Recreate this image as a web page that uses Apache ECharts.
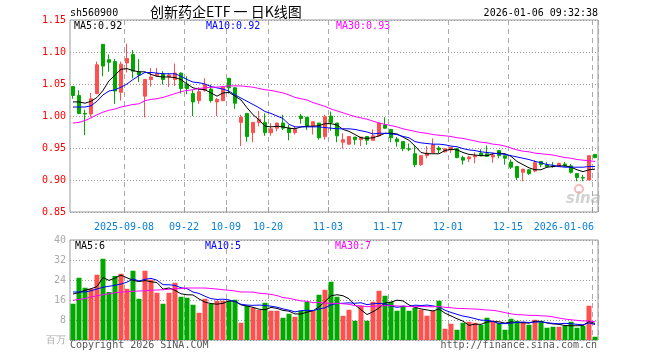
<!DOCTYPE html>
<html><head><meta charset="utf-8">
<script src="https://cdn.jsdelivr.net/npm/echarts@6/dist/echarts.min.js"></script>
<style>html,body{margin:0;padding:0;background:#fff}#c{width:660px;height:360px}</style>
</head><body><div id="c"></div>
<script>
const dates = [
'2025-08-26','2025-08-27','2025-08-28','2025-08-29',
'2025-09-01','2025-09-02','2025-09-03','2025-09-04','2025-09-05',
'2025-09-08','2025-09-09','2025-09-10','2025-09-11','2025-09-12',
'2025-09-15','2025-09-16','2025-09-17','2025-09-18','2025-09-19',
'2025-09-22','2025-09-23','2025-09-24','2025-09-25','2025-09-26',
'2025-09-29','2025-09-30','2025-10-09','2025-10-10',
'2025-10-13','2025-10-14','2025-10-15','2025-10-16','2025-10-17',
'2025-10-20','2025-10-21','2025-10-22','2025-10-23','2025-10-24',
'2025-10-27','2025-10-28','2025-10-29','2025-10-30','2025-10-31',
'2025-11-03','2025-11-04','2025-11-05','2025-11-06','2025-11-07',
'2025-11-10','2025-11-11','2025-11-12','2025-11-13','2025-11-14',
'2025-11-17','2025-11-18','2025-11-19','2025-11-20','2025-11-21',
'2025-11-24','2025-11-25','2025-11-26','2025-11-27','2025-11-28',
'2025-12-01','2025-12-02','2025-12-03','2025-12-04','2025-12-05',
'2025-12-08','2025-12-09','2025-12-10','2025-12-11','2025-12-12',
'2025-12-15','2025-12-16','2025-12-17','2025-12-18','2025-12-19',
'2025-12-22','2025-12-23','2025-12-24','2025-12-25','2025-12-26',
'2025-12-29','2025-12-30','2025-12-31','2026-01-05','2026-01-06'];

const tickDates  = ['2025-09-08','2025-09-22','2025-10-09','2025-10-20','2025-11-03','2025-11-17','2025-12-01','2025-12-15','2026-01-06'];
const tickLabels = ['2025-09-08','09-22','10-09','10-20','11-03','11-17','12-01','12-15','2026-01-06'];

const openP = [1.046,1.032,1.004,1.003,1.035,1.112,1.088,1.085,1.037,1.083,
1.096,1.069,1.031,1.057,1.063,1.066,1.061,1.057,1.067,1.050,
1.035,1.024,1.040,1.042,1.022,1.024,1.059,1.044,0.990,1.004,
0.974,0.990,0.990,0.974,0.981,0.989,0.981,0.974,1.000,0.998,
0.984,0.989,0.968,1.000,0.989,0.959,0.956,0.967,0.963,0.968,
0.962,0.969,0.986,0.979,0.964,0.960,0.949,0.941,0.924,0.938,
0.943,0.950,0.944,0.947,0.949,0.935,0.933,0.936,0.942,0.941,
0.936,0.946,0.938,0.928,0.921,0.912,0.916,0.914,0.929,0.924,
0.922,0.921,0.925,0.922,0.910,0.904,0.900,0.940];
const closeP = [1.032,1.004,1.003,1.027,1.080,1.078,1.084,1.039,1.081,1.090,
1.070,1.064,1.057,1.061,1.066,1.057,1.064,1.067,1.043,1.043,
1.022,1.038,1.049,1.024,1.026,1.045,1.044,1.020,0.998,0.968,
0.990,0.995,0.974,0.980,0.989,0.981,0.974,0.979,0.996,0.984,
0.991,0.966,0.999,0.990,0.969,0.963,0.968,0.963,0.967,0.962,
0.969,0.989,0.981,0.966,0.960,0.949,0.948,0.924,0.938,0.942,
0.955,0.947,0.949,0.951,0.935,0.931,0.936,0.938,0.938,0.937,
0.939,0.938,0.934,0.920,0.904,0.917,0.910,0.927,0.924,0.921,
0.921,0.926,0.922,0.912,0.904,0.903,0.938,0.935];
const lowP = [1.027,1.003,0.970,0.998,1.034,1.062,1.069,1.019,1.024,1.068,
1.059,1.053,0.998,1.046,1.062,1.049,1.045,1.047,1.035,1.034,
1.000,1.019,1.038,1.021,1.000,1.023,1.035,1.011,0.953,0.960,
0.959,0.984,0.969,0.969,0.976,0.978,0.962,0.971,0.988,0.978,
0.971,0.963,0.963,0.977,0.959,0.949,0.955,0.955,0.953,0.955,
0.962,0.968,0.980,0.959,0.952,0.945,0.945,0.920,0.922,0.934,
0.943,0.942,0.943,0.942,0.934,0.924,0.928,0.926,0.937,0.937,
0.927,0.934,0.924,0.917,0.900,0.898,0.908,0.912,0.920,0.919,
0.919,0.920,0.920,0.910,0.898,0.898,0.900,0.934];
const highP = [1.046,1.040,1.010,1.036,1.085,1.112,1.096,1.089,1.085,1.113,
1.103,1.089,1.057,1.075,1.075,1.070,1.067,1.082,1.068,1.062,
1.041,1.045,1.059,1.049,1.028,1.046,1.059,1.045,1.002,1.004,
0.990,1.008,1.004,0.989,0.990,1.002,0.986,0.984,1.003,0.998,
0.991,0.989,1.002,1.007,0.989,0.973,0.968,0.967,0.967,0.968,
0.979,0.989,0.998,0.979,0.967,0.960,0.957,0.953,0.938,0.953,
0.965,0.953,0.950,0.951,0.950,0.938,0.938,0.943,0.948,0.954,
0.943,0.946,0.938,0.932,0.922,0.917,0.917,0.931,0.929,0.928,
0.928,0.927,0.928,0.925,0.910,0.908,0.938,0.940];

const ma5 = [1.022,1.022,1.020,1.023,1.029,1.040,1.055,1.064,1.073,1.074,
1.071,1.069,1.069,1.065,1.062,1.061,1.061,1.060,1.057,1.050,
1.044,1.042,1.041,1.036,1.031,1.036,1.037,1.031,1.025,1.013,
1.002,0.994,0.984,0.983,0.984,0.983,0.981,0.980,0.983,0.984,
0.984,0.985,0.988,0.988,0.986,0.979,0.976,0.971,0.966,0.965,
0.966,0.969,0.973,0.973,0.972,0.967,0.962,0.953,0.943,0.941,
0.941,0.941,0.946,0.948,0.947,0.943,0.940,0.939,0.938,0.938,
0.941,0.942,0.941,0.937,0.929,0.924,0.919,0.916,0.916,0.920,
0.921,0.922,0.922,0.920,0.916,0.913,0.916,0.917];
const ma10 = [1.014,1.014,1.014,1.016,1.023,1.033,1.039,1.041,1.045,1.050,
1.057,1.063,1.068,1.068,1.067,1.066,1.066,1.066,1.062,1.057,
1.053,1.052,1.050,1.046,1.044,1.042,1.039,1.033,1.028,1.023,
1.018,1.013,1.007,1.004,1.000,0.996,0.987,0.983,0.983,0.983,
0.983,0.983,0.982,0.981,0.980,0.980,0.980,0.979,0.977,0.975,
0.972,0.973,0.973,0.972,0.971,0.968,0.966,0.960,0.958,0.957,
0.956,0.956,0.955,0.953,0.952,0.949,0.947,0.946,0.944,0.943,
0.942,0.941,0.940,0.938,0.936,0.934,0.932,0.929,0.927,0.924,
0.923,0.921,0.920,0.920,0.920,0.920,0.921,0.921];
const ma30 = [0.989,0.990,0.993,0.997,1.002,1.006,1.009,1.011,1.014,1.016,
1.018,1.019,1.024,1.026,1.027,1.029,1.032,1.035,1.038,1.040,
1.041,1.043,1.044,1.045,1.045,1.046,1.047,1.047,1.047,1.046,
1.045,1.043,1.041,1.040,1.038,1.036,1.033,1.029,1.027,1.025,
1.021,1.018,1.015,1.011,1.008,1.005,1.002,0.999,0.997,0.995,
0.992,0.989,0.987,0.985,0.983,0.980,0.978,0.976,0.974,0.973,
0.971,0.970,0.969,0.968,0.966,0.965,0.963,0.961,0.959,0.958,
0.956,0.955,0.953,0.950,0.947,0.945,0.944,0.942,0.941,0.940,
0.939,0.937,0.935,0.934,0.932,0.931,0.930,0.929];

const volume = [14.5,24.9,20.9,20.5,26.1,32.5,19.2,25.6,26.5,20.5,
27.7,16.5,27.7,24.1,18.9,14.5,18.9,22.9,17.3,16.9,
14.1,10.9,16.5,14.5,15.7,15.7,15.7,16.1,6.9,13.7,
12.9,12.0,14.9,11.7,11.7,8.9,10.5,9.3,11.7,15.3,
11.7,18.1,20.1,23.3,17.3,9.7,12.1,7.7,13.7,7.7,
15.3,19.7,17.7,15.3,11.7,13.7,11.7,12.9,12.1,9.7,
11.7,15.7,4.5,6.5,4.1,6.9,7.3,6.9,6.1,8.9,
7.7,6.9,4.1,8.5,7.7,7.3,6.1,8.1,7.7,4.9,
5.3,5.3,5.7,7.3,4.9,5.7,13.7,1.3];
const volMa5 = [18.4,19.0,19.9,20.5,21.38,24.98,23.84,24.78,25.98,24.86,
23.9,23.36,23.78,23.3,22.98,20.34,20.82,19.86,18.5,18.1,
18.02,16.42,15.14,14.58,14.34,14.66,15.62,15.54,14.02,13.62,
13.06,12.32,12.08,13.04,12.64,11.84,11.54,10.42,10.42,11.14,
11.7,13.22,15.38,17.7,18.1,17.7,16.5,14.02,12.1,10.18,
11.3,12.82,14.82,15.14,15.94,15.62,14.02,13.06,12.42,12.02,
11.62,12.42,10.74,9.62,8.5,7.54,5.86,6.34,6.26,7.22,
7.38,7.3,6.74,7.22,6.98,6.9,6.74,7.54,7.38,6.82,
6.42,6.26,5.78,5.7,5.7,5.78,7.46,6.58];
const volMa10 = [19.2,19.2,19.2,19.7,20.4,21.1,21.5,21.9,22.4,23.12,
24.44,23.6,24.28,24.64,23.92,22.12,22.09,21.82,20.9,20.54,
19.18,18.62,17.5,16.54,16.22,16.34,16.02,15.34,14.3,13.98,
13.86,13.97,13.81,13.53,13.13,12.45,11.93,11.25,11.73,11.89,
11.77,12.38,12.9,14.06,14.62,14.7,14.86,14.7,14.9,14.14,
14.5,14.66,14.42,13.62,13.06,13.46,13.42,13.94,13.78,13.98,
13.62,13.22,11.9,11.02,10.26,9.58,9.14,8.54,7.94,7.86,
7.46,6.58,6.54,6.74,7.1,7.14,7.02,7.14,7.3,6.9,
6.66,6.5,6.66,6.54,6.26,6.1,6.86,6.18];
const volMa30 = [15.9,16.2,16.6,17.2,17.7,18.1,18.5,18.9,19.2,19.3,
19.5,19.6,19.7,19.9,20.0,20.1,20.3,20.5,20.6,20.8,
20.8,20.8,20.8,20.6,20.4,20.1,19.9,19.6,19.2,19.21,
19.16,18.73,18.53,18.24,17.76,16.97,16.68,16.14,15.64,15.47,
14.94,14.99,14.74,14.71,14.66,14.5,14.27,13.76,13.64,13.34,
13.38,13.67,13.71,13.74,13.6,13.54,13.4,13.3,13.47,13.34,
13.3,13.42,13.07,12.9,12.65,12.58,12.47,12.39,12.21,11.99,
11.86,11.49,10.95,10.46,10.14,10.06,9.86,9.87,9.67,9.58,
9.25,8.77,8.37,8.1,7.87,7.61,7.67,7.29];

const RED = '#ff5050', GREEN = '#00a800';
const MONO = 'DejaVu Sans Mono';
const tickIdx = tickDates.map(d => dates.indexOf(d));
const labelMap = {}; tickDates.forEach((d, k) => { labelMap[d] = tickLabels[k]; });
const lastDate = dates[dates.length - 1];
const isTick = (i) => tickIdx.indexOf(i) >= 0;
const ohlc = dates.map((d, i) => [openP[i], closeP[i], lowP[i], highP[i]]);
const volData = volume.map((v, i) => ({ value: v, itemStyle: { color: closeP[i] >= openP[i] ? RED : GREEN } }));

const chart = echarts.init(document.getElementById('c'), null, { renderer: 'canvas', width: 660, height: 360 });

const xBase = (gi, showLabel) => ({
  type: 'category', data: dates, gridIndex: gi, boundaryGap: true,
  axisLine: { show: false },
  axisTick: { show: showLabel, inside: true, length: 5, interval: (i) => isTick(i), lineStyle: { color: '#999' } },
  axisLabel: showLabel ? {
    show: true, interval: (i) => isTick(i), alignMaxLabel: 'right',
    formatter: (v) => labelMap[v] ? (v === lastDate ? '{e|' + labelMap[v] + '}' : '{n|' + labelMap[v] + '}') : '',
    color: '#0a7fd6', fontFamily: MONO, fontSize: 10, margin: 10,
    rich: {
      n: { color: '#0a7fd6', fontFamily: MONO, fontSize: 10, padding: [0, 6, 0, 0] },
      e: { color: '#0a7fd6', fontFamily: MONO, fontSize: 10, padding: [0, 1, 0, 0] }
    }
  } : { show: false },
  splitLine: { show: true, interval: (i) => isTick(i), lineStyle: { color: '#aaa', type: [5, 4], width: 1 } }
});

const line = (data, color, xi, yi) => ({ type: 'line', data: data, xAxisIndex: xi, yAxisIndex: yi, symbol: 'none', silent: true, lineStyle: { width: 1, color: color }, z: 5 });

const txt = (x, y, text, color, extra) => Object.assign({ type: 'text', left: x, top: y, style: { text: text, fill: color, font: '10px "' + MONO + '"' } }, extra || {});

chart.setOption({
  animation: false,
  backgroundColor: '#fff',
  grid: [
    { left: 70, top: 20, width: 528, height: 192, show: true, borderColor: '#999', borderWidth: 1, backgroundColor: 'rgba(0,0,0,0)' },
    { left: 70, top: 240, width: 528, height: 100, show: true, borderColor: '#999', borderWidth: 1, backgroundColor: 'rgba(0,0,0,0)' }
  ],
  xAxis: [xBase(0, true), xBase(1, false)],
  yAxis: [
    { type: 'value', gridIndex: 0, min: 0.85, max: 1.15, interval: 0.05, axisLine: { show: false }, axisTick: { show: false },
      axisLabel: { color: '#ff0000', fontFamily: MONO, fontSize: 10, margin: 4, formatter: (v) => v.toFixed(2) },
      splitLine: { show: true, lineStyle: { color: '#999', type: [1, 2] } } },
    { type: 'value', gridIndex: 1, min: 0, max: 40, interval: 8, axisLine: { show: false }, axisTick: { show: false },
      axisLabel: { color: '#aaa', fontFamily: MONO, fontSize: 10, margin: 4, formatter: (v) => v === 0 ? '百万' : String(v) },
      splitLine: { show: true, lineStyle: { color: '#999', type: [1, 2] } } }
  ],
  series: [
    { type: 'candlestick', xAxisIndex: 0, yAxisIndex: 0, data: ohlc, barWidth: 4, silent: true,
      itemStyle: { color: RED, color0: GREEN, borderColor: RED, borderColor0: GREEN, borderWidth: 1 } },
    line(ma5, '#000000', 0, 0), line(ma10, '#0000ff', 0, 0), line(ma30, '#ff00ff', 0, 0),
    { type: 'bar', xAxisIndex: 1, yAxisIndex: 1, data: volData, barWidth: 5, silent: true },
    line(volMa5, '#000000', 1, 1), line(volMa10, '#0000ff', 1, 1), line(volMa30, '#ff00ff', 1, 1)
  ],
  graphic: [
    txt(70, 8, 'sh560900', '#000'),
    { type: 'text', left: 150, top: 5, style: { text: '创新药企ETF 一 日K线图', fill: '#000', font: '14px "Noto Sans CJK SC"' } },
    { type: 'text', right: 62, top: 8, style: { text: '2026-01-06 09:32:38', fill: '#000', font: '10px "' + MONO + '"' } },
    txt(74, 21, 'MA5:0.92', '#000'),
    txt(206, 21, 'MA10:0.92', '#0000ff'),
    txt(336, 21, 'MA30:0.93', '#ff00ff'),
    txt(75, 241, 'MA5:6', '#000'),
    txt(205, 241, 'MA10:5', '#0000ff'),
    txt(335, 241, 'MA30:7', '#ff00ff'),
    txt(70, 340, 'Copyright 2026 SINA.COM', '#555'),
    { type: 'text', right: 63, top: 340, style: { text: 'http://finance.sina.com.cn', fill: '#555', font: '10px "' + MONO + '"' } },
    { type: 'circle', shape: { cx: 579, cy: 189, r: 4 }, style: { fill: 'none', stroke: 'rgba(240,140,140,0.6)', lineWidth: 2 }, silent: true },
    { type: 'text', left: 566, top: 192, style: { text: 'sina', fill: 'rgba(180,180,180,0.6)', font: 'italic bold 15px "DejaVu Sans"' }, silent: true }
  ]
});
</script>
</body></html>
